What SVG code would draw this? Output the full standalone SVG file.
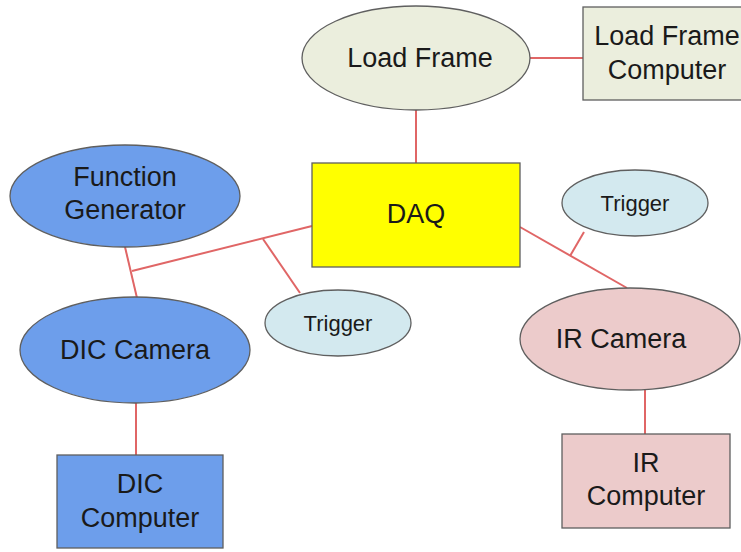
<svg xmlns="http://www.w3.org/2000/svg" width="741" height="552" viewBox="0 0 741 552">
<style>
text{font-family:"Liberation Sans",Arial,sans-serif;font-size:27px;fill:#1a1a1a;text-anchor:middle}
.s{stroke:#5f5f5f;stroke-width:1.3}
.blue{fill:#6d9eeb}
.green{fill:#ebeedd}
.pink{fill:#eccbcb}
.lb{fill:#d3e9ef}
.c{stroke:#e06666;stroke-width:2;fill:none}
.t{font-size:22px}
</style>
<rect width="741" height="552" fill="#ffffff"/>
<g id="connectors">
<line class="c" x1="530" y1="58" x2="583" y2="58"/>
<line class="c" x1="416" y1="110" x2="416" y2="163"/>
<line class="c" x1="125" y1="247" x2="137" y2="298"/>
<line class="c" x1="312" y1="226" x2="132" y2="271"/>
<line class="c" x1="263" y1="239" x2="300" y2="293"/>
<line class="c" x1="520" y1="227" x2="627" y2="288"/>
<line class="c" x1="570" y1="256" x2="584" y2="232"/>
<line class="c" x1="645" y1="390" x2="645" y2="434"/>
<line class="c" x1="136" y1="403" x2="136" y2="455"/>
</g>
<g id="load-frame">
<ellipse class="s green" cx="416" cy="58" rx="114" ry="52"/>
<text x="420" y="67">Load Frame</text>
</g>
<g id="load-frame-computer">
<rect class="s green" x="583" y="7" width="170" height="93"/>
<text x="667" y="45">Load Frame</text>
<text x="667" y="79">Computer</text>
</g>
<g id="daq">
<rect class="s" fill="#ffff00" x="312" y="163" width="208" height="104"/>
<text x="416" y="223">DAQ</text>
</g>
<g id="function-generator">
<ellipse class="s blue" cx="125" cy="196" rx="115" ry="51"/>
<text x="125" y="186">Function</text>
<text x="125" y="219">Generator</text>
</g>
<g id="dic-camera">
<ellipse class="s blue" cx="135" cy="350" rx="115" ry="53"/>
<text x="135" y="359">DIC Camera</text>
</g>
<g id="trigger-left">
<ellipse class="s lb" cx="338" cy="323" rx="73" ry="33"/>
<text class="t" x="338" y="331">Trigger</text>
</g>
<g id="trigger-right">
<ellipse class="s lb" cx="635" cy="203" rx="73" ry="33"/>
<text class="t" x="635" y="211">Trigger</text>
</g>
<g id="ir-camera">
<ellipse class="s pink" cx="630" cy="339" rx="110" ry="51"/>
<text x="621" y="348">IR Camera</text>
</g>
<g id="ir-computer">
<rect class="s pink" x="562" y="434" width="168" height="94"/>
<text x="646" y="472">IR</text>
<text x="646" y="505">Computer</text>
</g>
<g id="dic-computer">
<rect class="s blue" x="57" y="455" width="166" height="93"/>
<text x="140" y="493">DIC</text>
<text x="140" y="527">Computer</text>
</g>
</svg>
